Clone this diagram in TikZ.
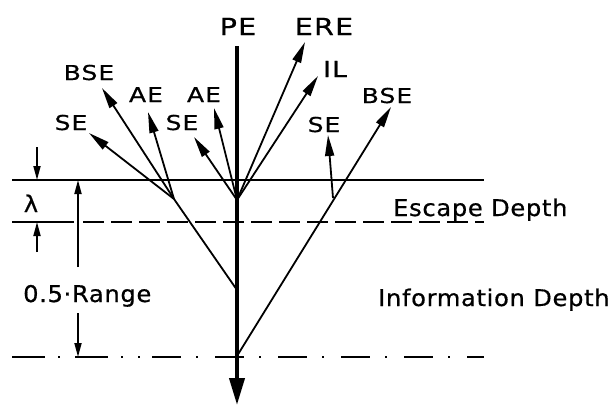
\documentclass[tikz,border=0pt]{standalone}
\usepackage{fontspec}
\setmainfont{DejaVu Sans}[FakeStretch=1.05,LetterSpace=3,FakeBold=0.6]
\newfontfamily\capfont{DejaVu Sans}[FakeStretch=1.22,LetterSpace=5,FakeBold=0.6]
\usetikzlibrary{arrows.meta}
\begin{document}
\begin{tikzpicture}[x=1pt,y=-1pt,
  thinln/.style={line width=1.8pt},
  ray/.style={line width=1.8pt,-{Triangle[length=21pt,width=9pt]}},
  dimarr/.style={line width=1.8pt,-{Triangle[length=14pt,width=7pt]}},
  txt/.style={font=\fontsize{23}{26}\selectfont,inner sep=0pt},
  big/.style={font=\capfont\fontsize{23.5}{26}\selectfont,inner sep=0pt},
  lbl/.style={font=\capfont\fontsize{20.5}{24}\selectfont,inner sep=0pt},
  sml/.style={font=\capfont\fontsize{20.5}{24}\selectfont,inner sep=0pt}]
\useasboundingbox (0,0) rectangle (614,408);
% layers
\draw[thinln] (12,180) -- (484,180);
\draw[thinln] (12,222) -- (74,222);
\draw[thinln,dash pattern=on 21pt off 7pt] (83,222) -- (484,222);
\draw[thinln,dash pattern=on 33pt off 13pt on 2pt off 15pt] (12,357) -- (140,357);
\draw[thinln,dash pattern=on 29pt off 15pt on 2pt off 17pt] (152,357) -- (484,357);
% key points
\coordinate (pet) at (237,46);
\coordinate (peb) at (237,405);
\coordinate (bl) at (174,199);
\coordinate (bc) at (237,200);
\coordinate (pj) at (237,290);
\coordinate (pd) at (237,356);
\coordinate (br) at (333,198);
% labels
\node[big,anchor=base] (lPE) at (238,35) {PE};
\node[big,anchor=base] (lERE) at (324,35) {ERE};
\node[big,font=\capfont\fontsize{22}{26}\selectfont,anchor=base] (lIL) at (335,77) {IL};
\node[sml,anchor=base] (lBSEr) at (387,103) {BSE};
\node[lbl,anchor=base] (lSEr) at (324,132) {SE};
\node[sml,anchor=base] (lBSEl) at (89,80) {BSE};
\node[lbl,anchor=base] (lAEl) at (146,102) {AE};
\node[lbl,anchor=base] (lAEc) at (204,102) {AE};
\node[lbl,anchor=base] (lSEl) at (71,130) {SE};
\node[lbl,anchor=base] (lSEc) at (182,130) {SE};
\node[txt,anchor=base] (llam) at (31,212) {λ};
\node[txt,anchor=base west] (lrange) at (23,302) {0.5·Range};
\node[txt,anchor=base west] (lesc) at (393,216) {Escape Depth};
\node[txt,anchor=base west] (linfo) at (378,306) {Information Depth};
% arrow tips
\coordinate (tSEl) at (89,133);
\coordinate (tBSEl) at (102,88);
\coordinate (tAEl) at (148,112);
\coordinate (tSEc) at (194,137);
\coordinate (tAEc) at (214,108);
\coordinate (tERE) at (305,42);
\coordinate (tIL) at (318,76);
\coordinate (tBSEr) at (391,107);
\coordinate (tSEr) at (328,135);
% primary beam
\draw[line width=4pt,-{Triangle[length=27pt,width=15pt]}] (pet) -- (peb);
% scattering
\draw[thinln] (pj) -- (bl);
\draw[ray] (bl) -- (tSEl);
\draw[ray] (bl) -- (tBSEl);
\draw[ray] (bl) -- (tAEl);
\draw[ray] (bc) -- (tSEc);
\draw[ray] (bc) -- (tAEc);
\draw[ray] (bc) -- (tERE);
\draw[ray] (bc) -- (tIL);
\draw[ray] (pd) -- (tBSEr);
\draw[ray] (br) -- (tSEr);
% dimensions
\coordinate (d1a) at (37,147);
\coordinate (d1b) at (37,180);
\coordinate (d2a) at (37,252);
\coordinate (d2b) at (37,222);
\coordinate (d3a) at (78,267);
\coordinate (d3b) at (78,180);
\coordinate (d4a) at (78,313);
\coordinate (d4b) at (78,357);
\draw[dimarr] (d1a) -- (d1b);
\draw[dimarr] (d2a) -- (d2b);
\draw[dimarr] (d3a) -- (d3b);
\draw[dimarr] (d4a) -- (d4b);
\end{tikzpicture}
\end{document}
